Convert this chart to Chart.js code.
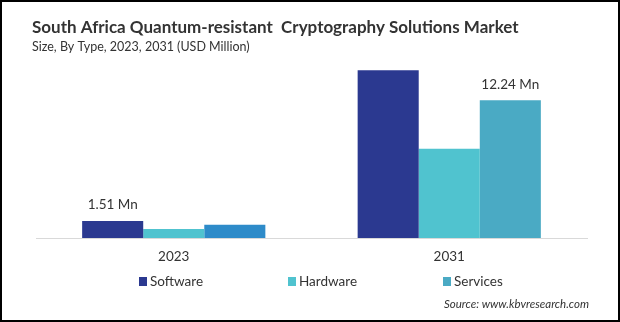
<!DOCTYPE html>
<html>
<head>
<meta charset="utf-8">
<script src="https://cdn.jsdelivr.net/npm/chart.js@4/dist/chart.umd.min.js"></script>
<style>
    html, body {margin: 0; padding: 0; background: #ffffff;}
    #wrap {width: 620px; height: 322px;}
</style>
</head>
<body>
<div id="wrap"><canvas id="chart" width="620" height="322"></canvas></div>
<script>
const years = ['2023', '2031'];
const software = [1.51, 14.91];
const hardware = [0.80, 7.93];
const services = [1.18, 12.24];
const seriesNames = ['Software', 'Hardware', 'Services'];
// which bars carry a value label: [dataset, index]
const labelled = [[0, 0], [2, 1]];

const font = 'Lato, "Open Sans", sans-serif';
const colors = {software: '#2b3990', hardware: '#50c3cf', services: '#4aaac4', services2023: '#2e8bc9'};

const frame = {
    id: 'frame',
    beforeDraw(chart) {
        const ctx = chart.ctx;
        ctx.save();
        ctx.fillStyle = '#ffffff';
        ctx.fillRect(0, 0, chart.width, chart.height);
        ctx.restore();
    },
    afterDraw(chart) {
        const ctx = chart.ctx;
        ctx.save();
        ctx.strokeStyle = '#000000';
        ctx.lineWidth = 2;
        ctx.strokeRect(1, 1, chart.width - 2, chart.height - 2);

        ctx.fillStyle = '#333333';
        ctx.textBaseline = 'middle';
        ctx.textAlign = 'left';
        ctx.font = 'bold 17px ' + font;
        ctx.fillText('South Africa Quantum-resistant  Cryptography Solutions Market', 32, 28);
        ctx.font = '12.5px ' + font;
        ctx.fillText('Size, By Type, 2023, 2031 (USD Million)', 32, 47);

        ctx.font = 'italic 11.5px ' + font;
        ctx.textAlign = 'right';
        ctx.fillText('Source: www.kbvresearch.com', 589, 304);

        // value labels
        ctx.font = '13.5px ' + font;
        ctx.textAlign = 'center';
        labelled.forEach(([d, i]) => {
            const bar = chart.getDatasetMeta(d).data[i];
            const v = chart.data.datasets[d].data[i];
            ctx.fillText(v.toFixed(2) + ' Mn', bar.x, bar.y - 16);
        });

        // legend
        const legendX = [139, 288, 443];
        ctx.font = '13.5px ' + font;
        ctx.textAlign = 'left';
        chart.data.datasets.forEach((ds, k) => {
            ctx.fillStyle = ds.legendColor;
            ctx.fillRect(legendX[k], 277, 8, 9);
            ctx.fillStyle = '#333333';
            ctx.fillText(ds.label, legendX[k] + 11, 282);
        });
        ctx.restore();
    }
};

new Chart(document.getElementById('chart'), {
    type: 'bar',
    data: {
        labels: years,
        datasets: [
            {label: seriesNames[0], data: software, backgroundColor: colors.software, legendColor: colors.software},
            {label: seriesNames[1], data: hardware, backgroundColor: colors.hardware, legendColor: colors.hardware},
            {label: seriesNames[2], data: services, backgroundColor: [colors.services2023, colors.services], legendColor: colors.services}
        ]
    },
    options: {
        responsive: false,
        animation: false,
        layout: {padding: {left: 36, right: 33, top: 58, bottom: 0}},
        datasets: {bar: {categoryPercentage: 0.665, barPercentage: 1, borderWidth: 0}},
        plugins: {legend: {display: false}, tooltip: {enabled: false}},
        scales: {
            x: {
                grid: {display: false},
                border: {display: true, color: '#d9d9d9', width: 1},
                ticks: {font: {family: font, size: 13.5}, color: '#333333', padding: 3},
                afterFit: scale => { scale.height = 84; }
            },
            y: {display: false, min: 0, max: 16}
        }
    },
    plugins: [frame]
});
</script>
</body>
</html>
